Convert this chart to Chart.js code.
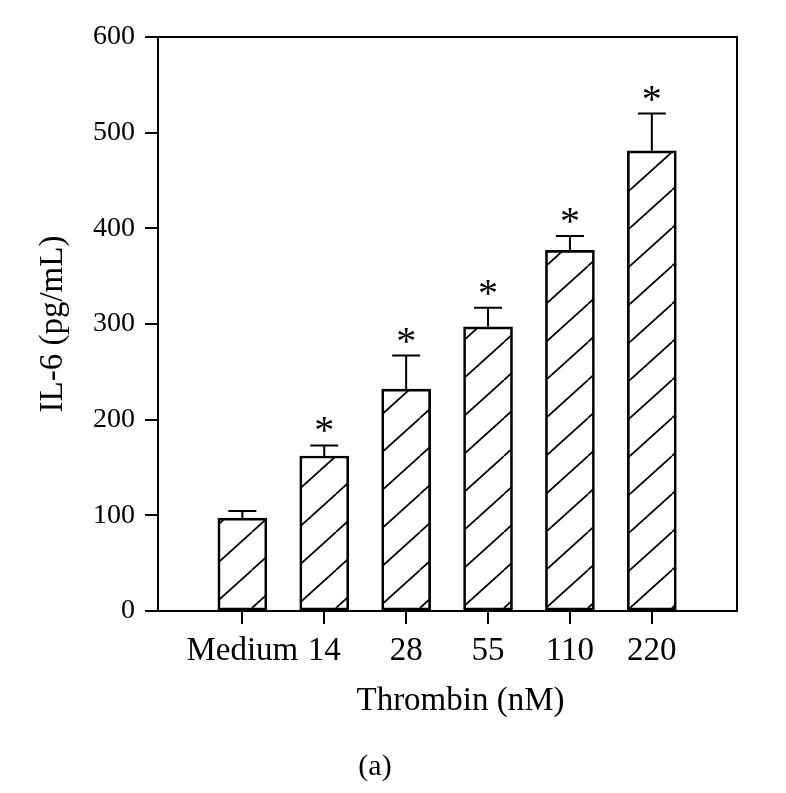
<!DOCTYPE html>
<html><head><meta charset="utf-8">
<script src="https://cdn.jsdelivr.net/npm/chart.js@4"></script>
<style>html,body{margin:0;padding:0;background:#fff}</style>
</head><body>
<canvas id="c" width="786" height="793"></canvas>
<script>
// ---- data ----
const categories = ['Medium', '14', '28', '55', '110', '220'];
const slots = [1, 2, 3, 4, 5, 6];
const il6Means = [97, 162, 232, 297, 377, 481];
const il6Errors = [7.5, 11, 35, 20, 15, 39];
const significant = [false, true, true, true, true, true];
const yTicks = [0, 100, 200, 300, 400, 500, 600];
const xTitle = 'Thrombin (nM)';
const yTitle = 'IL-6 (pg/mL)';
const panelLabel = '(a)';

const FONT = 'Liberation Serif';

function makeHatch() {
  const w = 42, h = 38;
  const c = document.createElement('canvas');
  c.width = w; c.height = h;
  const g = c.getContext('2d');
  g.strokeStyle = '#000';
  g.lineWidth = 1.7;
  g.beginPath();
  for (const x0 of [-w, 0, w]) {
    g.moveTo(x0, h); g.lineTo(x0 + w, 0);
  }
  g.stroke();
  return c;
}

const canvas = document.getElementById('c');
const ctx = canvas.getContext('2d');
const hatch = ctx.createPattern(makeHatch(), 'repeat');

const extras = {
  id: 'extras',
  afterDatasetsDraw(chart) {
    const g = chart.ctx;
    const ys = chart.scales.y;
    const meta = chart.getDatasetMeta(0);
    g.save();
    g.strokeStyle = '#000';
    g.fillStyle = '#000';
    g.lineWidth = 2;
    meta.data.forEach((bar, i) => {
      const top = ys.getPixelForValue(il6Means[i] + il6Errors[i]);
      g.beginPath();
      g.moveTo(bar.x, bar.y);
      g.lineTo(bar.x, top);
      g.moveTo(bar.x - 14, top);
      g.lineTo(bar.x + 14, top);
      g.stroke();
      if (significant[i]) {
        g.font = '40px "' + FONT + '"';
        g.textAlign = 'center';
        g.textBaseline = 'alphabetic';
        g.fillText('*', bar.x, top - 21 + 19);
      }
    });
    // frame: top and right borders
    const a = chart.chartArea;
    g.beginPath();
    g.moveTo(a.left, a.top);
    g.lineTo(a.right, a.top);
    g.lineTo(a.right, a.bottom);
    g.stroke();
    g.restore();
  },
  afterDraw(chart) {
    const g = chart.ctx;
    const a = chart.chartArea;
    g.save();
    g.fillStyle = '#000';
    g.textAlign = 'center';
    g.textBaseline = 'alphabetic';
    g.font = '33px "' + FONT + '"';
    g.fillText(xTitle, (a.left + a.right) / 2 + 13, a.bottom + 99);
    g.font = '30px "' + FONT + '"';
    g.fillText(panelLabel, 375, a.bottom + 164);
    g.restore();
  }
};

new Chart(ctx, {
  type: 'bar',
  data: {
    labels: categories,
    datasets: [{
      data: slots.map((s, i) => ({ x: s, y: il6Means[i] })),
      backgroundColor: hatch,
      borderColor: '#000',
      borderWidth: 2,
      borderSkipped: false,
      barThickness: 49
    }]
  },
  options: {
    responsive: false,
    animation: false,
    devicePixelRatio: 1,
    layout: { padding: { top: 37, right: 49, left: 0, bottom: 0 } },
    plugins: { legend: { display: false }, tooltip: { enabled: false } },
    scales: {
      x: {
        type: 'linear',
        min: -0.03,
        max: 7.04,
        offset: false,
        afterBuildTicks: s => { s.ticks = slots.map(v => ({ value: v })); },
        ticks: {
          callback: v => { const k = slots.indexOf(v); return k >= 0 ? categories[k] : ''; },
          font: { family: FONT, size: 33 },
          color: '#000',
          padding: 8,
          maxRotation: 0,
          autoSkip: false
        },
        grid: { drawOnChartArea: false, offset: false, tickLength: 13, color: '#000', lineWidth: 2 },
        border: { color: '#000', width: 2 },
        afterFit: s => { s.height = 793 - 611; }
      },
      y: {
        min: 0,
        max: 600,
        afterBuildTicks: s => { s.ticks = yTicks.map(v => ({ value: v })); },
        ticks: {
          font: { family: FONT, size: 28 },
          color: '#000',
          padding: 10
        },
        grid: { drawOnChartArea: false, tickLength: 13, color: '#000', lineWidth: 2 },
        border: { color: '#000', width: 2 },
        title: {
          display: true,
          text: yTitle,
          color: '#000',
          font: { family: FONT, size: 33 },
          padding: { top: 34, bottom: 0 }
        },
        afterFit: s => { s.width = 158; }
      }
    }
  },
  plugins: [extras]
});
</script>
</body></html>
